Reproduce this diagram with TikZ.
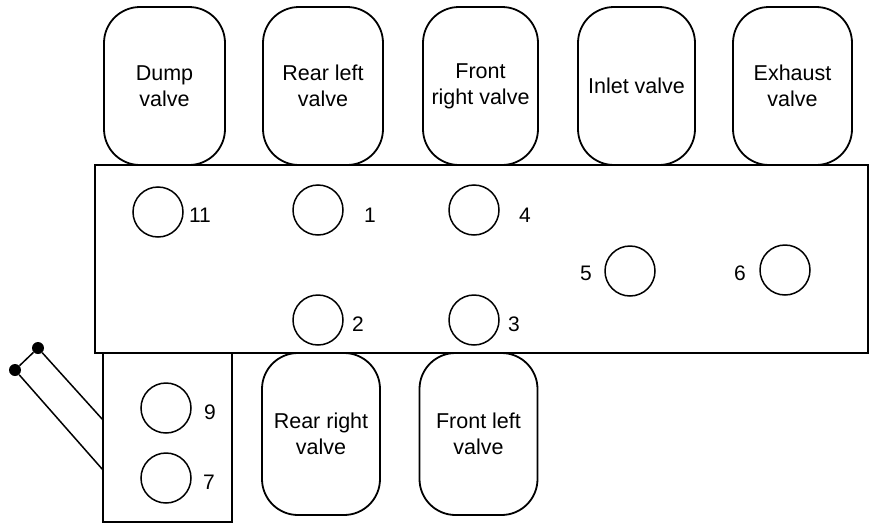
\documentclass[tikz,border=0pt]{standalone}
\usepackage{fontspec}
\setmainfont{Liberation Sans}
\begin{document}
\begin{tikzpicture}[x=1pt,y=-1pt,
  valve/.style={draw, line width=1.8pt, rounded corners=36pt, minimum width=118pt, minimum height=158pt, align=center, inner sep=0pt, font=\fontsize{21.5}{26}\selectfont},
  port/.style={draw, circle, line width=1.5pt, minimum size=50pt, inner sep=0pt},
  lbl/.style={font=\fontsize{21}{24}\selectfont, inner sep=0pt},
  dotn/.style={circle, fill=black, minimum size=12pt, inner sep=0pt},
  wire/.style={line width=1.5pt}]
\useasboundingbox (0,0) rectangle (896,530);
% main block and connector block
\draw[line width=2.2pt] (95,165) rectangle (868,353);
\draw[line width=1.8pt] (103,353) rectangle (232,522);
% top valves
\node[valve, minimum width=121pt] (dump) at (164.5,86) {Dump\\valve};
\node[valve, minimum width=120pt] (rl) at (323,86) {Rear left\\valve};
\node[valve, minimum width=115pt] (fr) at (480.5,86) {Front\\right valve};
\node[valve, minimum width=117pt] (inlet) at (636.5,86) {Inlet valve};
\node[valve, minimum width=119pt] (exh) at (792.5,86) {Exhaust\\valve};
% bottom valves
\node[valve, minimum height=162pt] (rr) at (321,434) {Rear right\\valve};
\node[valve, minimum height=162pt] (fl) at (478.5,434) {Front left\\valve};
% ports
\node[port] (p11) at (158,212) {};
\node[port] (p1) at (318,210) {};
\node[port] (p4) at (474,210) {};
\node[port] (p5) at (630,271) {};
\node[port] (p6) at (785,270) {};
\node[port] (p2) at (318,320) {};
\node[port] (p3) at (474,320) {};
\node[port] (p9) at (166,408) {};
\node[port] (p7) at (166,478) {};
% port labels
\node[lbl] (l11) at (200,215) {11};
\node[lbl] (l1) at (370,215) {1};
\node[lbl] (l4) at (525,215) {4};
\node[lbl] (l5) at (586,273) {5};
\node[lbl] (l6) at (740,273) {6};
\node[lbl] (l2) at (358,324) {2};
\node[lbl] (l3) at (514,324) {3};
\node[lbl] (l9) at (210,412) {9};
\node[lbl] (l7) at (209,482) {7};
% terminal wires
\node[dotn] (d1) at (38,348) {};
\node[dotn] (d2) at (15,370) {};
\coordinate (b1) at (103,420);
\coordinate (b2) at (103,470);
\draw[wire] (d1) -- (b1);
\draw[wire] (d2) -- (b2);
\draw[wire] (d1) -- (d2);
\end{tikzpicture}
\end{document}
